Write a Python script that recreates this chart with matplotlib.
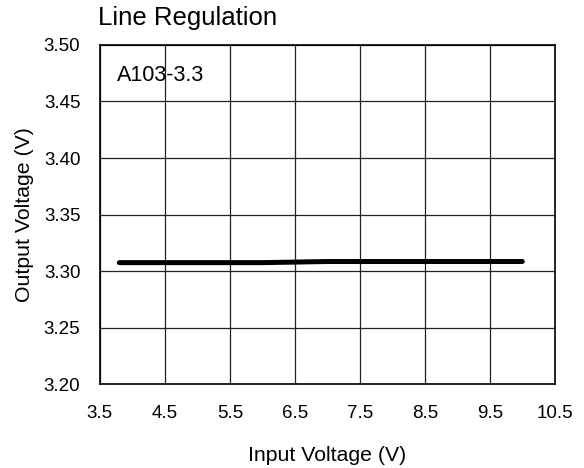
import matplotlib
matplotlib.use("Agg")
import matplotlib.pyplot as plt

plt.rcParams['font.family'] = ['Liberation Sans', 'DejaVu Sans']

vin = [3.8, 4.5, 5.5, 6.0, 6.5, 7.0, 7.5, 8.5, 9.5, 10.0]
vout = [3.3075, 3.3075, 3.3075, 3.3075, 3.3080, 3.3085, 3.3085, 3.3085, 3.3085, 3.3085]
xticks = [3.5, 4.5, 5.5, 6.5, 7.5, 8.5, 9.5, 10.5]
yticks = [3.20, 3.25, 3.30, 3.35, 3.40, 3.45, 3.50]

fig = plt.figure(figsize=(5.84, 4.68), dpi=100)
ax = fig.add_axes([0.171, 0.179, 0.779, 0.725])
ax.plot(vin, vout, color='black', linewidth=3.6, solid_capstyle='round', zorder=3)
ax.set_xlim(3.5, 10.5)
ax.set_ylim(3.20, 3.50)
ax.set_xticks(xticks)
ax.set_xticklabels([f"{t:.1f}" for t in xticks])
ax.set_yticks(yticks)
ax.set_yticklabels([f"{t:.2f}" for t in yticks])
ax.grid(True, color='#222222', linewidth=0.9)
ax.tick_params(axis='both', length=0, labelsize=13.5)
ax.tick_params(axis='x', pad=15)
ax.tick_params(axis='y', pad=14)
for s in ax.spines.values():
    s.set_color('black')
    s.set_linewidth(1.2)
ax.set_xlabel('Input Voltage (V)', fontsize=15.3, labelpad=17)
ax.set_ylabel('Output Voltage (V)', fontsize=15.3, labelpad=7)
ax.text(3.77, 3.473, 'A103-3.3', fontsize=15.5, va='center', ha='left')
fig.text(0.168, 0.962, 'Line Regulation', fontsize=18.5, ha='left', va='center')
fig.savefig('out.png', dpi=100)
